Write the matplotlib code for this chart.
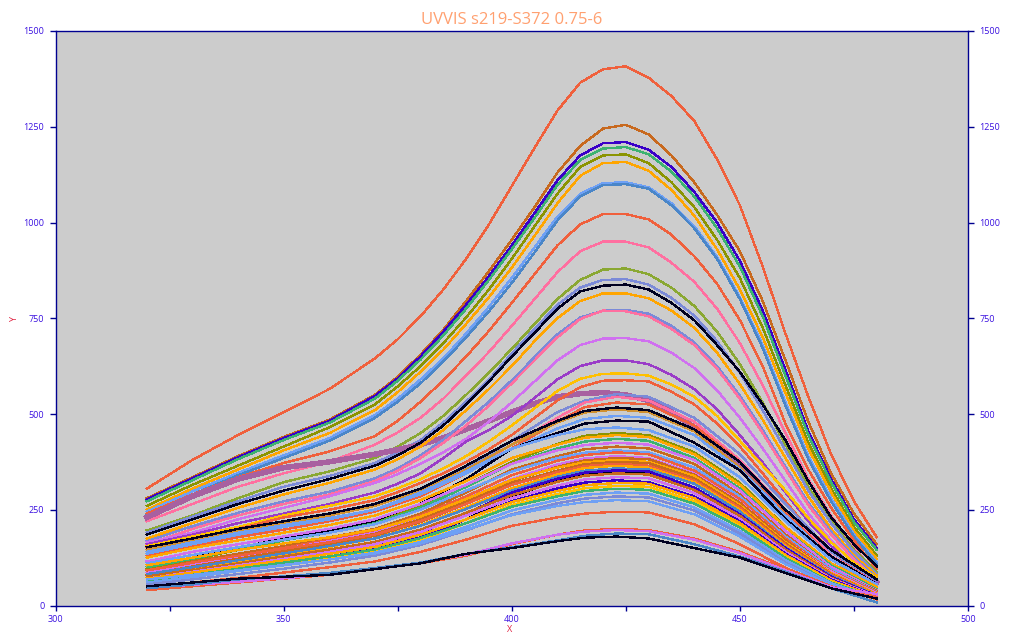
import matplotlib
matplotlib.use("Agg")
import matplotlib.pyplot as plt

# wavelength samples, finer where the big curves bend
x_fine = [320, 330, 340, 350, 360, 370, 375, 380, 385, 390, 395, 400, 405, 410, 415, 420, 425, 430, 435, 440,
          445, 450, 455, 460, 465, 470, 475, 480]
x_coarse = [320, 330, 340, 350, 360, 370, 380, 390, 400, 410, 416, 423, 430, 440, 450, 460, 470, 480]

RED = '#f0603c'
BROWN = '#c8691e'
VIOLET = '#3a00c8'
GREEN = '#3cb371'
OLIVE = '#8b9400'
ORANGE = '#ffa500'
STEEL = '#4a86c8'
BLUE = '#6ea0f5'
SLATE = '#7b8ad8'
PINK = '#ff6fa0'
LEAF = '#8aa832'
BLACK = '#000020'
TAN = '#d09030'
LILAC = '#d070f0'
PURPLE = '#9a3cc8'
YELLOW = '#ffc000'
MAUVE = '#a860a0'

# upper curves, peak 1410 down to 590
upper_colors = [RED, BROWN, VIOLET, GREEN, OLIVE, ORANGE, BLUE, STEEL, RED, PINK, LEAF, SLATE, MAUVE,
                BLACK, ORANGE, SLATE, PINK, LILAC, PURPLE, YELLOW, RED]
upper_curves = [
    [305, 380, 445, 505, 565, 645, 695, 755, 825, 905, 995, 1095, 1195, 1292, 1365, 1400, 1408, 1378, 1330, 1265, 1165, 1045, 885, 710, 545, 395, 272, 178],
    [280, 335, 390, 440, 485, 550, 597, 655, 720, 795, 873, 955, 1040, 1130, 1200, 1245, 1255, 1230, 1175, 1105, 1020, 925, 795, 640, 480, 345, 240, 160],
    [277, 332, 387, 437, 482, 547, 593, 650, 715, 785, 860, 940, 1025, 1110, 1175, 1207, 1210, 1190, 1145, 1080, 1000, 900, 770, 615, 455, 330, 225, 150],
    [272, 327, 382, 432, 477, 540, 587, 642, 705, 775, 850, 930, 1012, 1098, 1163, 1193, 1197, 1178, 1133, 1068, 985, 885, 755, 600, 445, 322, 218, 145],
    [260, 315, 365, 415, 465, 525, 572, 625, 685, 752, 825, 905, 990, 1075, 1145, 1175, 1178, 1155, 1105, 1040, 955, 855, 725, 575, 425, 305, 205, 130],
    [250, 305, 355, 405, 450, 510, 557, 610, 668, 735, 805, 882, 965, 1050, 1122, 1155, 1158, 1135, 1085, 1018, 930, 825, 700, 555, 410, 295, 195, 122],
    [245, 298, 346, 392, 437, 497, 540, 590, 645, 710, 780, 855, 935, 1015, 1075, 1103, 1105, 1092, 1050, 990, 910, 805, 680, 530, 390, 280, 185, 112],
    [238, 290, 340, 385, 430, 490, 532, 580, 637, 700, 768, 842, 922, 1005, 1068, 1098, 1100, 1088, 1045, 985, 905, 800, 672, 522, 382, 272, 180, 108],
    [240, 290, 335, 372, 402, 442, 482, 532, 588, 650, 717, 790, 865, 940, 995, 1022, 1022, 1008, 968, 912, 840, 745, 625, 475, 355, 255, 170, 95],
    [220, 265, 310, 345, 375, 420, 452, 490, 540, 600, 662, 730, 800, 870, 925, 950, 950, 935, 895, 845, 775, 685, 575, 450, 330, 235, 150, 85],
    [196, 235, 280, 322, 350, 385, 415, 450, 495, 550, 608, 670, 735, 800, 850, 877, 880, 865, 830, 782, 715, 630, 530, 420, 310, 222, 145, 88],
    [190, 232, 272, 310, 338, 372, 400, 432, 478, 532, 590, 658, 722, 785, 830, 850, 852, 838, 803, 757, 690, 607, 510, 405, 300, 215, 140, 82],
    [230, 285, 330, 360, 375, 395, 407, 420, 438, 460, 482, 505, 527, 545, 553, 556, 550, 535, 505, 465, 420, 365, 305, 240, 180, 125, 90, 60],
    [185, 225, 265, 300, 330, 365, 392, 425, 470, 525, 585, 650, 712, 775, 820, 835, 838, 825, 790, 745, 680, 610, 525, 431, 325, 230, 160, 102],
    [175, 215, 255, 290, 320, 355, 382, 415, 458, 510, 565, 625, 690, 750, 795, 815, 815, 802, 770, 725, 660, 578, 485, 385, 285, 200, 130, 78],
    [168, 207, 242, 272, 297, 332, 358, 392, 433, 482, 532, 588, 648, 708, 752, 770, 772, 762, 730, 687, 625, 548, 458, 362, 268, 192, 125, 72],
    [160, 200, 235, 265, 290, 325, 352, 385, 425, 470, 522, 580, 640, 700, 748, 770, 768, 755, 722, 680, 618, 540, 450, 355, 262, 185, 120, 68],
    [165, 190, 225, 255, 285, 320, 343, 370, 400, 435, 480, 530, 585, 640, 680, 697, 698, 690, 660, 620, 562, 490, 410, 325, 240, 170, 112, 65],
    [160, 185, 215, 240, 265, 295, 318, 345, 385, 428, 458, 495, 542, 590, 625, 640, 640, 630, 602, 565, 512, 445, 373, 295, 220, 155, 100, 60],
    [155, 180, 205, 235, 260, 285, 306, 330, 358, 390, 428, 470, 515, 560, 592, 605, 606, 600, 577, 545, 495, 430, 365, 300, 228, 165, 112, 72],
    [150, 175, 200, 230, 250, 275, 296, 320, 345, 375, 408, 445, 490, 535, 570, 587, 588, 585, 558, 525, 475, 415, 345, 272, 200, 145, 95, 55],
]

# middle band, peak 552 down to 483
middle_colors = [SLATE, PINK, RED, TAN, BLACK, BLUE, BLACK]
middle_curves = [
    [130, 155, 180, 205, 225, 250, 295, 360, 430, 505, 535, 552, 545, 490, 395, 265, 140, 65],
    [135, 160, 185, 205, 225, 250, 290, 350, 420, 490, 530, 545, 535, 480, 380, 250, 130, 55],
    [130, 155, 178, 198, 220, 245, 285, 345, 410, 480, 518, 530, 525, 470, 375, 245, 125, 50],
    [145, 170, 195, 215, 235, 260, 300, 355, 420, 478, 504, 512, 505, 455, 360, 235, 120, 50],
    [152, 175, 200, 220, 240, 265, 305, 365, 430, 482, 508, 517, 510, 460, 375, 250, 145, 68],
    [140, 165, 190, 210, 228, 250, 290, 345, 408, 462, 487, 495, 490, 445, 355, 235, 125, 55],
    [100, 125, 150, 175, 195, 220, 265, 330, 410, 450, 475, 483, 480, 425, 353, 225, 128, 55],
]

# dense lower mass, peak 465 down to 245
lower_colors = [BLUE, OLIVE, ORANGE, GREEN, LILAC, BROWN, BLUE, RED, LILAC, BROWN, ORANGE, BROWN, RED, ORANGE,
                STEEL, BLACK, VIOLET, BROWN, LILAC, VIOLET, ORANGE, YELLOW, GREEN, BLUE, SLATE, BLUE, RED]
lower_curves = [
    [135, 160, 185, 205, 225, 250, 295, 350, 410, 445, 460, 465, 458, 415, 335, 220, 120, 55],
    [95, 120, 145, 170, 190, 215, 260, 315, 375, 422, 443, 450, 445, 400, 320, 205, 110, 45],
    [125, 150, 170, 190, 210, 235, 275, 325, 385, 420, 438, 445, 440, 395, 315, 205, 110, 48],
    [100, 122, 147, 170, 190, 215, 255, 310, 370, 410, 428, 435, 430, 385, 305, 195, 105, 42],
    [115, 140, 160, 180, 200, 225, 265, 315, 370, 405, 419, 425, 420, 380, 300, 195, 100, 40],
    [90, 115, 135, 155, 178, 200, 240, 295, 355, 390, 408, 415, 410, 370, 290, 185, 95, 38],
    [110, 132, 152, 172, 190, 212, 250, 300, 350, 385, 399, 405, 400, 360, 285, 180, 95, 35],
    [85, 108, 130, 150, 172, 195, 235, 285, 340, 378, 393, 400, 395, 352, 278, 175, 90, 35],
    [85, 105, 127, 147, 168, 190, 228, 278, 330, 368, 384, 390, 385, 345, 270, 170, 88, 32],
    [80, 102, 122, 142, 165, 187, 225, 272, 325, 362, 379, 385, 382, 342, 268, 170, 85, 30],
    [105, 125, 145, 162, 178, 198, 232, 278, 328, 360, 374, 380, 375, 338, 262, 165, 85, 30],
    [78, 98, 118, 138, 160, 182, 218, 265, 318, 352, 369, 375, 372, 332, 258, 162, 82, 28],
    [92, 112, 130, 148, 165, 185, 220, 265, 315, 348, 364, 370, 365, 326, 255, 158, 80, 28],
    [72, 92, 112, 132, 153, 175, 210, 256, 306, 342, 359, 365, 360, 322, 250, 155, 78, 27],
    [82, 100, 118, 136, 155, 175, 208, 252, 300, 336, 352, 358, 355, 318, 245, 152, 78, 26],
    [70, 83, 95, 110, 125, 145, 175, 225, 285, 326, 344, 350, 348, 306, 236, 148, 74, 25],
    [65, 82, 100, 118, 135, 155, 190, 240, 295, 331, 347, 353, 350, 308, 238, 150, 75, 25],
    [75, 92, 110, 128, 146, 166, 198, 242, 288, 323, 339, 345, 342, 302, 234, 146, 72, 24],
    [70, 88, 105, 122, 140, 160, 192, 235, 280, 313, 329, 335, 332, 294, 226, 140, 70, 24],
    [62, 78, 95, 110, 128, 147, 178, 225, 272, 306, 321, 327, 322, 285, 220, 135, 68, 22],
    [70, 86, 102, 118, 135, 153, 185, 225, 270, 299, 314, 320, 318, 280, 215, 132, 65, 22],
    [58, 74, 90, 106, 124, 142, 172, 215, 262, 291, 306, 312, 310, 272, 208, 128, 62, 20],
    [66, 80, 96, 112, 128, 146, 176, 215, 258, 285, 299, 305, 302, 266, 204, 124, 60, 20],
    [60, 74, 90, 105, 120, 138, 166, 205, 248, 276, 289, 295, 292, 256, 195, 118, 58, 18],
    [55, 68, 82, 96, 112, 130, 158, 196, 238, 267, 279, 285, 282, 248, 188, 112, 55, 18],
    [68, 80, 92, 106, 120, 136, 162, 198, 236, 260, 270, 275, 272, 238, 180, 108, 54, 20],
    [48, 60, 72, 86, 100, 115, 140, 172, 208, 230, 240, 245, 243, 212, 160, 98, 50, 16],
]

# bottom curves
bottom_colors = [RED, LILAC, STEEL, BLACK]
bottom_curves = [
    [40, 50, 60, 70, 80, 95, 110, 130, 160, 185, 196, 200, 197, 175, 140, 95, 50, 22],
    [46, 54, 62, 71, 82, 96, 112, 133, 162, 185, 193, 197, 194, 172, 137, 92, 48, 30],
    [45, 55, 68, 76, 85, 98, 112, 135, 152, 170, 182, 188, 186, 160, 128, 88, 45, 8],
    [50, 60, 70, 75, 80, 95, 110, 135, 150, 168, 177, 180, 175, 150, 125, 85, 45, 18],
]

y_ticks = [0, 250, 500, 750, 1000, 1250, 1500]
x_ticks = [300, 350, 400, 450, 500]
x_minor = [325, 375, 425, 475]
title = "UVVIS s219-S372 0.75-6"

AXIS = '#000090'
LABEL = '#3a10e0'

plt.rcParams['font.family'] = ['Open Sans', 'DejaVu Sans']
fig = plt.figure(figsize=(10.24, 6.4), dpi=100)
ax = fig.add_axes([55.5 / 1024, 1 - 605.5 / 640, 912.5 / 1024, 574.5 / 640])
ax.set_facecolor('#cccccc')

for xs, curves, colors in [(x_fine, upper_curves, upper_colors), (x_coarse, middle_curves, middle_colors),
                           (x_coarse, lower_curves, lower_colors), (x_coarse, bottom_curves, bottom_colors)]:
    for vals, c in zip(curves, colors):
        lw = 3.2 if c == MAUVE else 0.95
        ax.plot(xs, vals, color=c, lw=lw, antialiased=False, solid_joinstyle='round')

ax.set_xlim(300, 500)
ax.set_ylim(0, 1500)
ax.set_xticks(x_ticks)
ax.set_xticks(x_minor, minor=True)
ax.set_yticks(y_ticks)

ax.tick_params(axis='x', which='both', length=3.6, width=1, color=AXIS, labelcolor=LABEL, labelsize=6.5, pad=3.5)
ax.tick_params(axis='y', length=4, width=1, color=AXIS, labelcolor=LABEL, labelsize=6.5, pad=4,
               left=True, right=True, labelleft=True, labelright=True)
for spine in ax.spines.values():
    spine.set_color(AXIS)
    spine.set_linewidth(1)

ax.set_title(title, color='#ffa070', fontsize=12, pad=5)
fig.text(510 / 1024, 1 - 630 / 640, "X", color='#e02040', fontsize=6.5, ha='center', va='center')
fig.text(15 / 1024, 1 - 320 / 640, "Y", color='#e02040', fontsize=6.5, rotation=90, ha='center', va='center')

fig.savefig("out.png", dpi=100)
